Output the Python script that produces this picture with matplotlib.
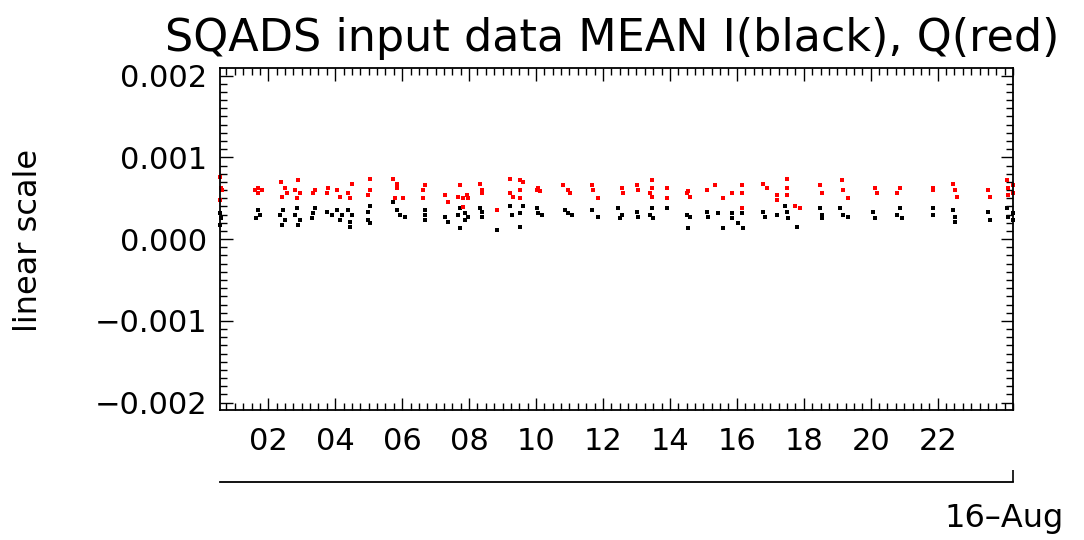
import matplotlib.pyplot as plt
from matplotlib.ticker import MultipleLocator, FixedLocator
import numpy as np

# hours of 16-Aug, values in units of 1e-4
q_time = [0.57, 0.60, 0.63, 0.57,
          1.70, 1.70, 1.61, 1.82,
          2.39, 2.51, 2.57, 2.42,
          2.90, 2.81, 2.96, 2.87,
          3.40, 3.34, 3.79, 3.76, 4.06, 4.15,
          4.51, 4.39, 4.45, 5.04, 5.04, 4.99,
          5.73, 5.85, 5.85, 5.79, 6.03,
          6.69, 6.63, 6.63, 7.28, 7.37,
          7.73, 7.67, 7.82, 7.94, 7.97, 7.82,
          8.33, 8.39, 8.39, 8.84,
          9.22, 9.22, 9.52, 9.61, 9.52, 9.31, 9.52,
          10.06, 10.03, 10.12, 10.81, 10.96, 11.01,
          11.67, 11.70, 11.85,
          12.57, 12.60, 13.01, 13.04,
          13.46, 13.46, 13.40, 13.46, 13.91, 13.91,
          14.51, 14.60, 14.54, 15.10, 15.34, 15.58,
          15.85, 16.15, 16.15, 16.15,
          16.78, 16.90, 17.19, 17.19,
          17.49, 17.49, 17.49, 17.73, 17.88,
          18.48, 18.54, 19.13, 19.16, 19.31,
          20.12, 20.18, 20.78, 20.87, 21.85, 21.85,
          22.45, 22.51, 22.57, 23.49, 23.55,
          24.06, 24.09, 24.09, 24.24, 24.24]
q_mean = [7.6, 6.3, 6.0, 4.8,
          6.3, 5.6, 6.0, 6.0,
          7.0, 6.3, 5.7, 5.1,
          7.2, 6.0, 5.6, 5.0,
          6.0, 5.6, 6.2, 5.6, 6.0, 5.1,
          6.8, 5.7, 5.0, 7.3, 6.0, 5.4,
          7.4, 6.8, 6.2, 5.0, 5.0,
          6.6, 6.0, 5.0, 5.4, 4.5,
          6.6, 5.1, 5.0, 5.4, 5.0, 3.9,
          6.8, 6.0, 5.6, 3.5,
          7.4, 5.7, 7.2, 7.0, 6.0, 5.1, 5.0,
          6.2, 6.0, 5.9, 6.6, 6.0, 5.6,
          6.6, 6.0, 5.0,
          6.2, 5.7, 6.6, 6.0,
          7.2, 6.3, 5.6, 5.1, 6.3, 5.0,
          5.6, 5.1, 5.9, 6.0, 6.6, 5.0,
          5.7, 6.6, 5.6, 3.8,
          6.8, 6.2, 5.4, 4.8,
          7.4, 6.3, 5.4, 4.1, 3.8,
          6.6, 5.6, 7.2, 6.0, 5.0,
          6.2, 5.7, 5.7, 6.3, 6.3, 6.0,
          6.8, 6.0, 5.1, 6.0, 5.1,
          7.2, 6.2, 5.4, 6.6, 5.7]

i_time = [0.57, 0.60, 0.57,
          1.70, 1.76, 1.64,
          2.45, 2.36, 2.51, 2.42,
          2.87, 2.81, 2.96, 2.90,
          3.40, 3.34, 3.31, 3.76, 3.91,
          4.06, 4.21, 4.15, 4.39, 4.51, 4.45, 4.45,
          5.04, 4.99, 4.99, 5.04,
          5.73, 5.85, 5.94, 6.09,
          6.69, 6.69, 6.69, 7.28, 7.37,
          7.73, 7.67, 7.88, 7.97, 7.88, 7.73,
          8.33, 8.39, 8.39, 8.84,
          9.22, 9.28, 9.52, 9.61, 9.52,
          10.03, 10.06, 10.18, 10.87, 10.96, 11.07,
          11.67, 11.85,
          12.45, 12.57, 12.51, 13.01, 13.04,
          13.46, 13.40, 13.49, 13.91,
          14.51, 14.60, 14.54,
          15.10, 15.13, 15.43, 15.58,
          15.85, 15.85, 16.15, 16.03, 16.18,
          16.78, 16.84, 17.19, 17.43, 17.49, 17.52, 17.79,
          18.48, 18.54, 18.54, 19.07, 19.16, 19.31,
          20.06, 20.12, 20.78, 20.87, 20.93,
          21.85, 21.85, 22.45, 22.51, 22.51,
          23.49, 23.55, 24.06, 24.09, 24.24, 24.24]
i_mean = [3.2, 2.6, 1.7,
          3.5, 2.9, 2.6,
          3.5, 2.9, 2.3, 1.7,
          3.8, 2.9, 2.3, 1.7,
          3.8, 3.2, 2.6, 3.3, 2.9,
          3.5, 2.9, 2.3, 3.5, 2.9, 2.1, 1.5,
          4.1, 3.3, 2.3, 2.0,
          4.5, 3.5, 2.9, 2.7,
          3.5, 2.9, 2.3, 2.7, 2.1,
          3.8, 2.9, 3.2, 2.7, 2.3, 1.3,
          3.8, 3.3, 2.7, 1.1,
          4.1, 2.9, 3.2, 4.1, 1.5,
          3.8, 3.2, 2.9, 3.5, 3.2, 2.9,
          3.5, 2.7,
          3.8, 2.9, 2.6, 3.3, 2.7,
          3.8, 2.9, 2.6, 3.8,
          2.9, 2.7, 1.3,
          3.3, 2.7, 3.2, 1.3,
          3.2, 2.6, 3.2, 2.0, 1.3,
          3.3, 2.7, 2.9, 4.1, 3.3, 2.6, 1.5,
          3.8, 2.9, 2.6, 3.8, 2.9, 2.7,
          3.3, 2.6, 2.9, 3.8, 2.6,
          3.8, 2.9, 3.5, 2.7, 2.1,
          3.3, 2.3, 3.8, 2.7, 3.2, 2.3]

hour_ticks = [2, 4, 6, 8, 10, 12, 14, 16, 18, 20, 22]
hour_labels = ['02', '04', '06', '08', '10', '12', '14', '16', '18', '20', '22']
y_ticks = [-0.002, -0.001, 0.0, 0.001, 0.002]
y_labels = ['\u22120.002', '\u22120.001', '0.000', '0.001', '0.002']
day_label = '16\u2013Aug'

fig = plt.figure(figsize=(10.84, 5.4), dpi=100)
ax = fig.add_axes([0.203, 0.2407, 0.7315, 0.633])

ax.plot(np.array(i_time), np.array(i_mean) * 1e-4, 's', color='black',
        markersize=2.8, markeredgewidth=0, clip_on=False)
ax.plot(np.array(q_time), np.array(q_mean) * 1e-4, 's', color='red',
        markersize=2.8, markeredgewidth=0, clip_on=False)

ax.set_xlim(0.56, 24.25)
ax.set_ylim(-0.00209, 0.00209)

ax.xaxis.set_major_locator(FixedLocator(hour_ticks))
ax.set_xticklabels(hour_labels)
ax.xaxis.set_minor_locator(MultipleLocator(0.25))
ax.set_yticks(y_ticks)
ax.set_yticklabels(y_labels)
ax.yaxis.set_minor_locator(MultipleLocator(0.0001))

ax.tick_params(which='both', direction='in', top=True, right=True,
               width=1.0, labelsize=22)
ax.tick_params(which='major', length=9)
ax.tick_params(which='minor', length=5)
ax.tick_params(axis='x', pad=12)
ax.tick_params(axis='y', pad=9)
for s in ax.spines.values():
    s.set_linewidth(1.3)

ax.set_ylabel('linear scale', fontsize=23)
ax.yaxis.set_label_coords(-0.222, 0.497)

# second date axis below
sec = ax.secondary_xaxis(-0.21)
sec.set_xticks([24.25])
sec.set_xticklabels([''])
sec.tick_params(direction='in', length=9, width=1.2)
sec.spines['bottom'].set_linewidth(1.3)

fig.text(0.871, 0.04, day_label, fontsize=23, ha='left', va='center')
fig.text(0.565, 0.928, 'SQADS input data MEAN I(black), Q(red)',
         fontsize=32, ha='center', va='center')

plt.savefig('out.png', dpi=100)
